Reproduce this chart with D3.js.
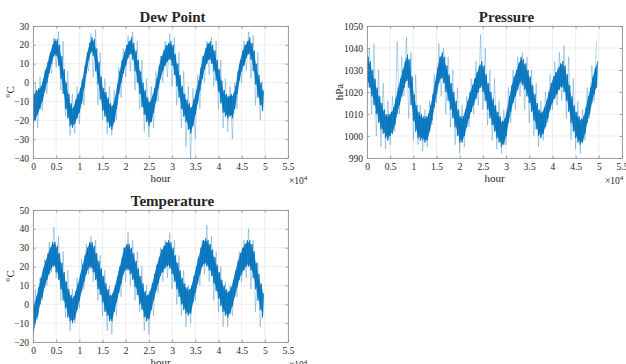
<!DOCTYPE html>
<html><head><meta charset="utf-8">
<script src="https://cdn.jsdelivr.net/npm/d3@7"></script>
<style>
body{margin:0;background:#fff}
svg{display:block}
text{font-family:"Liberation Serif","Times New Roman",serif;fill:#262626}
</style>
</head><body>
<svg id="fig" width="626" height="364"></svg>
<script>
// Hourly series summarised in bins: the dense core band every 500 h
// (low, high) and the outlying extremes every 1000 h (low, high).
const CORE_STEP = 500;
const SPIKE_STEP = 1000;

const hourTicks = [0,5000,10000,15000,20000,25000,30000,35000,40000,45000,50000,55000];
const hourTickLabels = ["0","0.5","1","1.5","2","2.5","3","3.5","4","4.5","5","5.5"];

const dewTicks = [-40,-30,-20,-10,0,10,20,30];
const pressureTicks = [990,1000,1010,1020,1030,1040,1050];
const tempTicks = [-20,-10,0,10,20,30,40,50];

const dewCoreLo = [-22,-20,-17,-14,-10,-5,0,5,10,14, 14,9,2,-6,-14,-19,-23,-24,-22,-19, -16,-11,-3,5,12,16,14,6,-1,-9, -15,-18,-21,-24,-25,-21,-14,-6,0,5, 9,13,15,12,6,0,-6,-13,-17,-21, -23,-21,-16,-10,-3,2,6,9,11,12, 9,4,-2,-8,-14,-18,-21,-25,-27,-23, -17,-11,-4,2,7,10,12,10,6,1, -5,-11,-16,-18,-19,-18,-19,-14,-6,1, 6,9,13,15,12,6,-1,-8,-12,-15];
const dewCoreHi = [-6,-4,-3,-2,2,7,11,16,20,23, 23,20,14,7,0,-6,-11,-13,-9,-6, -3,2,9,16,21,24,23,18,11,3, -3,-5,-8,-11,-12,-8,-1,6,12,16, 20,22,24,21,17,12,6,0,-4,-8, -10,-7,-3,2,9,14,17,20,21,22, 20,15,10,4,-2,-6,-9,-11,-13,-9, -4,1,8,14,18,21,22,20,17,12, 7,1,-4,-6,-7,-6,-6,-2,6,12, 17,20,22,24,21,17,10,4,0,-4];
const dewSpikeLo = [-27,-24,-15,-6,5,8,-4,-18,-28,-27, -22,-12,6,3,-12,-20,-27,-28,-20,-8, 3,6,-4,-14,-26,-29,-24,-10,0,3, -2,-12,-24,-34,-40,-30,-14,0,4,-2, -14,-24,-26,-30,-14,0,6,2,-12,-20];
const dewSpikeHi = [0,3,6,14,24,27,22,6,-6,-2, 1,12,26,28,16,2,-2,-4,8,18, 25,27,22,12,2,-2,6,14,22,26, 24,16,6,-2,-3,4,14,22,24,22, 12,2,-2,0,10,22,27,25,16,1];

const pressureCoreLo = [1024,1022,1018,1014,1010,1006,1003,1001,999,998, 1000,1001,1005,1010,1014,1018,1022,1025,1022,1014, 1007,1002,999,998,998,997,998,1002,1007,1013, 1019,1024,1026,1024,1020,1016,1012,1008,1004,1000, 997,997,1000,1004,1008,1011,1014,1017,1020,1022, 1020,1016,1012,1008,1005,1002,999,997,995,996, 1000,1006,1011,1015,1018,1021,1024,1023,1021,1018, 1015,1011,1007,1003,1000,999,1001,1004,1008,1012, 1015,1017,1019,1021,1022,1020,1016,1011,1006,1002, 999,997,996,997,1001,1006,1010,1015,1019,1022];
const pressureCoreHi = [1036,1034,1030,1026,1022,1018,1015,1012,1010,1010, 1011,1013,1017,1022,1026,1030,1034,1037,1035,1027, 1019,1014,1011,1010,1009,1009,1010,1014,1019,1025, 1031,1036,1038,1036,1032,1028,1024,1020,1016,1012, 1009,1009,1012,1016,1020,1023,1026,1029,1032,1034, 1032,1028,1024,1020,1017,1014,1011,1009,1007,1008, 1012,1018,1023,1027,1030,1033,1036,1035,1033,1030, 1027,1023,1019,1015,1012,1011,1013,1016,1020,1024, 1027,1029,1031,1033,1034,1032,1028,1023,1018,1014, 1011,1009,1008,1009,1013,1018,1022,1027,1031,1034];
const pressureSpikeLo = [1018,1010,1000,995,994,996,1002,1010,1018,1008, 998,996,993,995,1005,1015,1018,1010,1004,996, 992,995,1004,1010,1014,1012,1005,998,994,992, 996,1006,1012,1018,1012,1006,1000,995,998,1006, 1012,1014,1016,1008,998,994,992,998,1008,1016];
const pressureSpikeHi = [1040,1042,1030,1024,1016,1018,1043,1036,1045,1038, 1028,1014,1012,1016,1028,1042,1040,1036,1030,1022, 1014,1018,1026,1034,1046,1040,1030,1026,1016,1012, 1022,1030,1036,1038,1036,1030,1024,1016,1020,1028, 1034,1038,1041,1036,1026,1016,1012,1022,1032,1043];

const tempCoreLo = [-16,-10,-6,0,4,9,13,16,19,20, 17,13,8,2,-2,-7,-9,-10,-8,-3, 2,7,12,16,19,19,17,13,8,5, 1,-4,-6,-9,-9,-4,1,6,11,16, 18,18,16,13,9,5,0,-3,-7,-9, -8,-3,2,7,11,15,17,19,20,19, 16,12,8,4,0,-3,-5,-6,-5,1, 6,11,16,20,21,20,18,15,11,7, 3,-1,-4,-6,-7,-5,-1,4,9,13, 16,18,20,20,18,14,8,2,-3,-7];
const tempCoreHi = [0,4,9,14,19,23,27,30,33,33, 31,27,22,17,12,8,5,4,7,11, 16,21,26,30,33,33,31,27,23,19, 15,11,8,5,6,10,15,20,25,30, 32,32,30,27,23,19,15,11,7,5, 7,11,16,21,25,29,31,33,34,33, 30,26,22,18,14,11,9,8,10,15, 20,25,30,34,35,34,32,29,25,21, 17,13,10,8,7,9,13,18,23,27, 30,32,34,34,32,28,22,16,11,6];
const tempSpikeLo = [-18,-8,2,10,17,14,2,-7,-14,-10, -2,8,16,12,2,-6,-14,-16,-6,4, 12,10,2,-4,-14,-16,-6,6,12,14, 8,0,-6,-12,-10,2,10,16,12,2, -4,-12,-12,-6,4,12,14,8,-4,-12];
const tempSpikeHi = [8,14,24,33,41,36,28,18,8,14, 24,32,36,34,26,18,10,8,18,30, 38,34,28,20,10,8,18,30,34,38, 34,26,18,10,12,24,34,42,36,28, 20,12,10,16,28,34,40,34,22,8];

const panels = [
  {title:"Dew Point", unit:"°C", left:33, right:288, top:26, bottom:158, domain:[-40,30], ticks:dewTicks,
   unitX:14, expX:289, coreLo:dewCoreLo, coreHi:dewCoreHi, spikeLo:dewSpikeLo, spikeHi:dewSpikeHi},
  {title:"Pressure", unit:"hPa", left:367, right:622, top:26, bottom:158, domain:[990,1050], ticks:pressureTicks,
   unitX:343, expX:605, coreLo:pressureCoreLo, coreHi:pressureCoreHi, spikeLo:pressureSpikeLo, spikeHi:pressureSpikeHi},
  {title:"Temperature", unit:"°C", left:33, right:288, top:210, bottom:342, domain:[-20,50], ticks:tempTicks,
   unitX:14, expX:289, coreLo:tempCoreLo, coreHi:tempCoreHi, spikeLo:tempSpikeLo, spikeHi:tempSpikeHi}
];

const svg = d3.select("#fig");
const lineColor = "#0072BD";
const axisColor = "#262626";
const boxColor = "#8c8c8c";

// Zigzag through each bin's low and high values
function zigzag(lo, hi, step) {
  const pts = [];
  lo.forEach((v, i) => { pts.push([i * step, v]); pts.push([i * step + step / 2, hi[i]]); });
  return pts;
}

panels.forEach((p, k) => {
  const x = d3.scaleLinear().domain([0, 55000]).range([p.left, p.right]);
  const y = d3.scaleLinear().domain(p.domain).range([p.bottom, p.top]);
  const g = svg.append("g");

  // grid
  g.append("g").selectAll("line").data(hourTicks).join("line")
    .attr("x1", d => x(d)).attr("x2", d => x(d)).attr("y1", p.top).attr("y2", p.bottom)
    .attr("stroke", "#e3e3e3").attr("stroke-width", 0.6);
  g.append("g").selectAll("line").data(p.ticks).join("line")
    .attr("x1", p.left).attr("x2", p.right).attr("y1", d => y(d)).attr("y2", d => y(d))
    .attr("stroke", "#e3e3e3").attr("stroke-width", 0.6);

  const clipId = "clip" + k;
  g.append("clipPath").attr("id", clipId).append("rect")
    .attr("x", p.left).attr("y", p.top - 1).attr("width", p.right - p.left).attr("height", p.bottom - p.top + 2);

  const line = d3.line().x(d => x(d[0])).y(d => y(d[1]));
  const band = d3.area().x((d, i) => x(i * CORE_STEP + CORE_STEP / 4))
    .y0(d => y(d[0])).y1(d => y(d[1])).curve(d3.curveLinear);
  const plot = g.append("g").attr("clip-path", `url(#${clipId})`);
  plot.append("path").attr("d", line(zigzag(p.spikeLo, p.spikeHi, SPIKE_STEP)))
    .attr("fill", "none").attr("stroke", lineColor).attr("stroke-width", 0.5).attr("stroke-opacity", 0.6);
  plot.append("path").attr("d", band(p.coreLo.map((v, i) => [v + 1, p.coreHi[i] - 1])))
    .attr("fill", lineColor).attr("fill-opacity", 0.85);
  plot.append("path").attr("d", line(zigzag(p.coreLo, p.coreHi, CORE_STEP)))
    .attr("fill", "none").attr("stroke", lineColor).attr("stroke-width", 0.8);

  // axes with inward ticks on all four sides
  const styleAxis = sel => {
    sel.selectAll(".domain").attr("stroke", boxColor).attr("stroke-width", 0.8);
    sel.selectAll(".tick line").attr("stroke", boxColor).attr("stroke-width", 0.8);
    sel.selectAll(".tick text").attr("font-size", 9.5).attr("fill", axisColor)
      .style("font-family", '"Liberation Serif", serif');
  };
  g.append("g").attr("transform", `translate(0,${p.bottom})`)
    .call(d3.axisBottom(x).tickValues(hourTicks).tickFormat((d, i) => hourTickLabels[i])
      .tickSizeInner(-2.5).tickSizeOuter(0).tickPadding(5)).call(styleAxis);
  g.append("g").attr("transform", `translate(0,${p.top})`)
    .call(d3.axisTop(x).tickValues(hourTicks).tickFormat("").tickSizeInner(-2.5).tickSizeOuter(0)).call(styleAxis);
  g.append("g").attr("transform", `translate(${p.left},0)`)
    .call(d3.axisLeft(y).tickValues(p.ticks).tickFormat(d3.format("d"))
      .tickSizeInner(-2.5).tickSizeOuter(0).tickPadding(4)).call(styleAxis);
  g.append("g").attr("transform", `translate(${p.right},0)`)
    .call(d3.axisRight(y).tickValues(p.ticks).tickFormat("").tickSizeInner(-2.5).tickSizeOuter(0)).call(styleAxis);

  // title and labels
  g.append("text").attr("x", (p.left + p.right) / 2 + 12).attr("y", p.top - 4)
    .attr("text-anchor", "middle").attr("font-size", 15).attr("font-weight", "bold").attr("fill", "#000")
    .text(p.title);
  g.append("text").attr("x", (p.left + p.right) / 2).attr("y", p.bottom + 24)
    .attr("text-anchor", "middle").attr("font-size", 11).text("hour");
  g.append("text").attr("transform", `translate(${p.unitX},${(p.top + p.bottom) / 2}) rotate(-90)`)
    .attr("text-anchor", "middle").attr("font-size", 11).text(p.unit);
  const exp = g.append("text").attr("x", p.expX).attr("y", p.bottom + 26).attr("font-size", 9.5);
  exp.append("tspan").text("×10");
  exp.append("tspan").attr("font-size", 7).attr("dy", -4).text("4");
});
</script>
</body></html>
